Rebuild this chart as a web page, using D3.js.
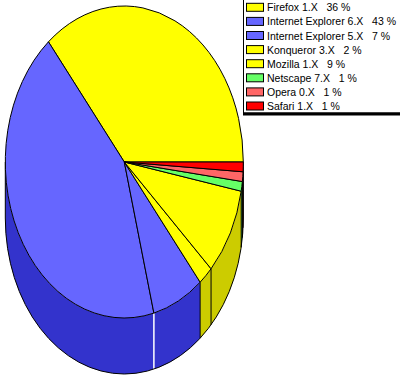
<!DOCTYPE html>
<html><head><meta charset="utf-8">
<script src="https://cdn.jsdelivr.net/npm/d3@7"></script>
<style>html,body{margin:0;padding:0;background:#fff;overflow:hidden}svg{display:block}</style>
</head><body>
<svg id="c" width="400" height="378"></svg>
<script>
const categories = ["Firefox 1.X","Internet Explorer 6.X","Internet Explorer 5.X","Konqueror 3.X","Mozilla 1.X","Netscape 7.X","Opera 0.X","Safari 1.X"];
const values = [36,43,7,2,9,1,1,1];
const topColors = ["#ffff00","#6666ff","#6666ff","#ffff00","#ffff00","#66ff66","#ff6666","#ff0000"];
const sideColors = ["#cccc00","#3333cc","#3333cc","#cccc00","#cccc00","#33cc33","#cc3333","#cc0000"];

const svg = d3.select("#c");
const cx = 124.3, cy = 162, rx = 119, ry = 156, depth = 56;
const x = d3.scaleLinear().domain([-1,1]).range([cx-rx, cx+rx]);
const y = d3.scaleLinear().domain([-1,1]).range([cy-ry, cy+ry]);
const P = (t, dz) => [x(Math.cos(t)), y(-Math.sin(t)) + (dz||0)];

const arcs = d3.pie().sort(null).startAngle(0).endAngle(2*Math.PI)(values);
const PI = Math.PI, TAU = 2*Math.PI;

// sides
const g = svg.append("g");
arcs.forEach((a,i) => {
  const s0 = Math.max(a.startAngle, PI), s1 = Math.min(a.endAngle, TAU);
  if (s1 <= s0) return;
  const p0 = P(s0), p1 = P(s1), q1 = P(s1, depth), q0 = P(s0, depth);
  const d = `M${p0}A${rx},${ry} 0 0 0 ${p1}L${q1}A${rx},${ry} 0 0 1 ${q0}Z`;
  g.append("path").attr("d", d).attr("fill", sideColors[i]).attr("stroke","none");
});
// side edges
const bounds = arcs.map(a => a.endAngle).filter(t => t > PI && t < TAU - 1e-6);
bounds.forEach(t => {
  const p = P(t), q = P(t, depth);
  const idx = arcs.findIndex(a => Math.abs(a.endAngle - t) < 1e-9);
  g.append("line").attr("x1",p[0]).attr("y1",p[1]).attr("x2",q[0]).attr("y2",q[1])
    .attr("stroke", idx === 1 ? "#fff" : "#000").attr("stroke-width", idx === 1 ? 1.5 : 1);
});
[PI, TAU].forEach(t => {
  const p = P(t), q = P(t, depth);
  g.append("line").attr("x1",p[0]).attr("y1",p[1]).attr("x2",q[0]).attr("y2",q[1]).attr("stroke","#000");
});
g.append("path").attr("d", `M${P(PI,depth)}A${rx},${ry} 0 0 0 ${P(TAU,depth)}`)
  .attr("fill","none").attr("stroke","#000");

// top faces
const c0 = [cx, cy];
arcs.forEach((a,i) => {
  const p0 = P(a.startAngle), p1 = P(a.endAngle);
  const large = (a.endAngle - a.startAngle) > PI ? 1 : 0;
  const d = `M${c0}L${p0}A${rx},${ry} 0 ${large} 0 ${p1}Z`;
  svg.append("path").attr("d", d).attr("fill", topColors[i])
    .attr("stroke","#000").attr("stroke-width",1).attr("stroke-linejoin","round");
});

// legend
const lg = svg.append("g");
lg.append("rect").attr("x",243.5).attr("y",-1).attr("width",200).attr("height",114)
  .attr("fill","#fff").attr("stroke","#000");
lg.append("rect").attr("x",243).attr("y",112.5).attr("width",160).attr("height",3).attr("fill","#000");
const rowY = d3.scaleLinear().domain([0,1]).range([2.8, 16.9]);
categories.forEach((c,i) => {
  const yy = rowY(i);
  lg.append("rect").attr("x",246.5).attr("y",yy+0.5).attr("width",17).attr("height",8)
    .attr("fill",topColors[i]).attr("stroke","#000");
  lg.append("text").attr("x",267).attr("y",yy+8.5)
    .attr("font-family","'Liberation Sans', Arial, sans-serif").attr("font-size",10.5)
    .attr("fill","#000").style("white-space","pre")
    .text(`${c}   ${values[i]} %`);
});
</script>
</body></html>
